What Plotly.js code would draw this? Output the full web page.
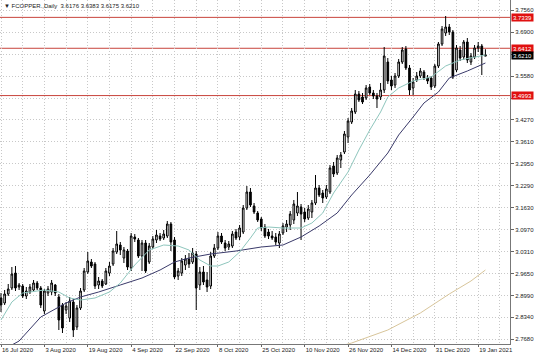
<!DOCTYPE html>
<html><head><meta charset="utf-8">
<script src="https://cdn.plot.ly/plotly-3.0.1.min.js"></script>
<style>html,body{margin:0;padding:0;background:#fff;}#chart{width:536px;height:357px;}</style>
</head><body><div id="chart"></div>
<script>
const symbolName = 'FCOPPER.,Daily';
const tickDates = ['16 Jul 2020','3 Aug 2020','19 Aug 2020','4 Sep 2020','22 Sep 2020','8 Oct 2020','25 Oct 2020','10 Nov 2020','26 Nov 2020','14 Dec 2020','31 Dec 2020','19 Jan 2021'];
const tickBars = [0,12,24,36,48,60,72,84,96,108,120,132];
const priceTicks = [2.768,2.834,2.899,2.965,3.031,3.097,3.163,3.229,3.295,3.361,3.427,3.492,3.558,3.624,3.690,3.756];
const priceTickText = ['2.7680','2.8340','2.8990','2.9650','3.0310','3.0970','3.1630','3.2290','3.2950','3.3610','3.4270','','3.5580','','3.6900','3.7560'];
const levels = [3.7339, 3.6412, 3.4993];

const open = [2.892,2.877,2.904,2.922,2.967,2.925,2.928,2.898,2.910,2.916,
2.937,2.922,2.853,2.907,2.910,2.931,2.895,2.871,2.856,2.832,
2.880,2.805,2.862,2.916,2.970,3.000,2.994,2.931,2.943,2.934,
2.967,2.994,3.030,3.051,3.012,3.033,2.982,3.075,3.066,3.018,
3.057,3.000,3.045,3.066,3.078,3.072,3.078,3.114,3.066,2.958,
2.967,2.991,3.009,3.000,3.024,2.931,2.970,2.946,2.928,3.018,
3.042,3.078,3.057,3.045,3.048,3.090,3.075,3.090,3.162,3.210,
3.168,3.147,3.129,3.105,3.090,3.078,3.075,3.057,3.087,3.105,
3.111,3.126,3.147,3.165,3.150,3.132,3.150,3.177,3.222,3.207,
3.195,3.210,3.288,3.267,3.306,3.330,3.375,3.420,3.450,3.504,
3.495,3.492,3.525,3.507,3.498,3.495,3.516,3.600,3.546,3.531,
3.558,3.600,3.639,3.582,3.522,3.546,3.558,3.570,3.552,3.552,
3.528,3.588,3.654,3.687,3.705,3.690,3.576,3.636,3.615,3.660,
3.600,3.615,3.642,3.648,3.6176];
const high = [2.907,2.916,2.934,2.985,2.988,2.937,2.934,2.925,2.934,2.946,
2.943,2.928,2.919,2.928,2.946,2.934,2.904,2.877,2.880,2.895,
2.889,2.871,2.922,2.982,3.030,3.009,3.000,2.955,2.949,2.982,
3.000,3.042,3.093,3.060,3.045,3.039,3.087,3.084,3.072,3.066,
3.066,3.057,3.078,3.096,3.087,3.096,3.123,3.120,3.075,2.982,
3.012,3.021,3.027,3.042,3.033,2.985,2.988,2.970,3.030,3.054,
3.090,3.087,3.066,3.063,3.093,3.099,3.111,3.171,3.228,3.222,
3.177,3.153,3.135,3.114,3.099,3.093,3.087,3.093,3.117,3.126,
3.153,3.186,3.210,3.174,3.162,3.171,3.186,3.261,3.231,3.216,
3.231,3.291,3.300,3.321,3.330,3.393,3.432,3.462,3.516,3.513,
3.507,3.531,3.534,3.516,3.507,3.537,3.645,3.612,3.558,3.567,
3.609,3.645,3.648,3.591,3.552,3.570,3.582,3.576,3.561,3.558,
3.594,3.660,3.708,3.738,3.714,3.696,3.651,3.648,3.666,3.672,
3.627,3.651,3.660,3.654,3.6383];
const low = [2.850,2.871,2.898,2.916,2.913,2.916,2.892,2.889,2.904,2.910,
2.916,2.862,2.844,2.898,2.901,2.898,2.796,2.787,2.844,2.820,
2.775,2.796,2.856,2.910,2.964,2.982,2.919,2.919,2.922,2.931,
2.958,2.988,3.024,3.021,2.997,2.976,2.973,3.060,3.012,2.973,
2.967,2.994,3.039,3.057,3.063,3.066,3.072,3.033,2.949,2.946,
2.958,2.976,2.982,2.994,2.856,2.916,2.931,2.910,2.919,3.012,
3.036,3.054,3.033,3.036,3.042,3.066,3.066,3.084,3.156,3.165,
3.144,3.120,3.093,3.072,3.069,3.066,3.051,3.042,3.081,3.090,
3.096,3.114,3.138,3.066,3.120,3.126,3.132,3.171,3.195,3.177,
3.189,3.204,3.255,3.261,3.282,3.324,3.357,3.414,3.444,3.480,
3.474,3.486,3.501,3.489,3.462,3.486,3.507,3.534,3.516,3.522,
3.552,3.594,3.576,3.501,3.501,3.540,3.552,3.546,3.534,3.516,
3.522,3.582,3.648,3.678,3.681,3.549,3.570,3.603,3.606,3.597,
3.591,3.609,3.630,3.561,3.6175];
const close = [2.871,2.904,2.919,2.964,2.922,2.931,2.898,2.913,2.925,2.937,
2.922,2.871,2.913,2.919,2.937,2.907,2.826,2.802,2.868,2.883,
2.796,2.862,2.913,2.973,3.003,2.988,2.928,2.943,2.928,2.973,
2.988,3.033,3.054,3.036,3.036,2.985,3.078,3.069,3.018,3.057,
2.973,3.048,3.069,3.081,3.069,3.084,3.114,3.060,2.955,2.973,
3.003,3.009,2.994,3.027,2.922,2.970,2.940,2.925,3.018,3.042,
3.078,3.060,3.042,3.054,3.084,3.072,3.102,3.162,3.210,3.171,
3.150,3.126,3.102,3.078,3.078,3.072,3.060,3.084,3.108,3.114,
3.144,3.174,3.168,3.144,3.129,3.159,3.177,3.222,3.201,3.192,
3.219,3.282,3.264,3.312,3.321,3.384,3.423,3.453,3.504,3.486,
3.480,3.522,3.507,3.498,3.489,3.516,3.618,3.543,3.528,3.558,
3.600,3.636,3.582,3.516,3.540,3.558,3.573,3.552,3.543,3.525,
3.588,3.654,3.699,3.705,3.690,3.555,3.642,3.612,3.660,3.606,
3.618,3.642,3.648,3.621,3.6210];

const fastBar = [0,3,6,12,16,19,22,26,30,33,37,41,45,49,52,55,58,60,63,66,69,71,74,78,83,86,89,92,96,99,102,105,107,110,114,119,123,127,134];
const fastMA = [2.826,2.880,2.907,2.916,2.910,2.892,2.886,2.892,2.910,2.937,2.991,3.036,3.051,3.048,3.036,3.006,2.988,2.988,3.000,3.030,3.072,3.102,3.105,3.102,3.102,3.117,3.147,3.207,3.270,3.336,3.396,3.450,3.495,3.522,3.543,3.555,3.588,3.606,3.621];
const slowBar = [3,5,11,18,22,27,33,39,44,48,52,58,65,72,78,83,88,93,97,102,107,110,114,117,121,124,129,134];
const slowMA = [2.751,2.763,2.835,2.877,2.895,2.910,2.931,2.952,2.976,3.000,3.012,3.024,3.033,3.045,3.051,3.075,3.108,3.147,3.201,3.261,3.327,3.381,3.435,3.477,3.510,3.552,3.573,3.597];
const longBar = [93,97,107,116,124,130,134];
const longMA = [2.745,2.757,2.796,2.847,2.904,2.943,2.976];

const bars = open.map((_, i) => i);
const last = open.length - 1;
const FONT = 'Liberation Sans, Arial, sans-serif';
const GRID = '#c8c8c8';
const GDASH = '1px,2px';

const traces = [
  {type:'scatter', mode:'lines', x:longBar, y:longMA, line:{color:'#d8c59a', width:1}, hoverinfo:'skip'},
  {type:'scatter', mode:'lines', x:slowBar, y:slowMA, line:{color:'#3a3a6a', width:1}, hoverinfo:'skip'},
  {type:'scatter', mode:'lines', x:fastBar, y:fastMA, line:{color:'#8ec6bd', width:1}, hoverinfo:'skip'},
  {type:'candlestick', x:bars, open:open, high:high, low:low, close:close,
   increasing:{line:{color:'#000', width:1}, fillcolor:'#ffffff'},
   decreasing:{line:{color:'#000', width:1}, fillcolor:'#000000'},
   whiskerwidth:0, hoverinfo:'skip'}
];

const minorVals = tickBars.map(v => v + 6);

const shapes = levels.map(v => ({type:'line', xref:'paper', x0:0, x1:1, yref:'y', y0:v, y1:v,
  line:{color:'#c8443c', width:1}, layer:'below'}));

const annotations = levels.map(v => ({xref:'paper', x:1, xanchor:'left', xshift:1, yref:'y', y:v,
  text:v.toFixed(4), showarrow:false, bgcolor:'#e01010', font:{family:FONT, size:6, color:'#fff'},
  width:21, height:7, borderpad:0}));
annotations.push({xref:'paper', x:1, xanchor:'left', xshift:1, yref:'y', y:close[last],
  text:close[last].toFixed(4), showarrow:false, bgcolor:'#000', font:{family:FONT, size:6, color:'#fff'},
  width:21, height:7, borderpad:0});
annotations.push({xref:'paper', x:0, xanchor:'left', xshift:2, yref:'paper', y:1, yanchor:'top', yshift:-1,
  text:'▼ ' + symbolName + '  ' + [open[last], high[last], low[last], close[last]].map(v => v.toFixed(4)).join(' '),
  showarrow:false, font:{family:FONT, size:6, color:'#222'}});

const layout = {
  width:536, height:357,
  margin:{l:0, r:26, t:0, b:13},
  paper_bgcolor:'#fff', plot_bgcolor:'#fff',
  showlegend:false,
  boxgap:0.35,
  xaxis:{range:[-0.28, 140.8], tickmode:'array', tickvals:tickBars, ticktext:tickDates,
    tickangle:0, automargin:false,
    ticklabelposition:'outside right', ticks:'outside', ticklen:2, tickcolor:'#666',
    tickfont:{family:FONT, size:6, color:'#222'},
    showgrid:true, gridcolor:GRID, griddash:GDASH, gridwidth:1,
    minor:{tickvals:minorVals, showgrid:true, gridcolor:GRID, griddash:GDASH, gridwidth:1, ticks:''},
    showline:true, linecolor:'#777', linewidth:1, zeroline:false,
    rangeslider:{visible:false}, fixedrange:true},
  yaxis:{side:'right', range:[2.754, 3.786], tickmode:'array', tickvals:priceTicks, ticktext:priceTickText,
    automargin:false,
    ticks:'outside', ticklen:3, tickcolor:'#666', tickfont:{family:FONT, size:6, color:'#222'},
    showgrid:true, gridcolor:GRID, griddash:GDASH, gridwidth:1,
    showline:true, linecolor:'#777', linewidth:1, mirror:true, zeroline:false, fixedrange:true},
  shapes:shapes,
  annotations:annotations
};

Plotly.newPlot('chart', traces, layout, {staticPlot:true, displayModeBar:false});
</script>
</body></html>
